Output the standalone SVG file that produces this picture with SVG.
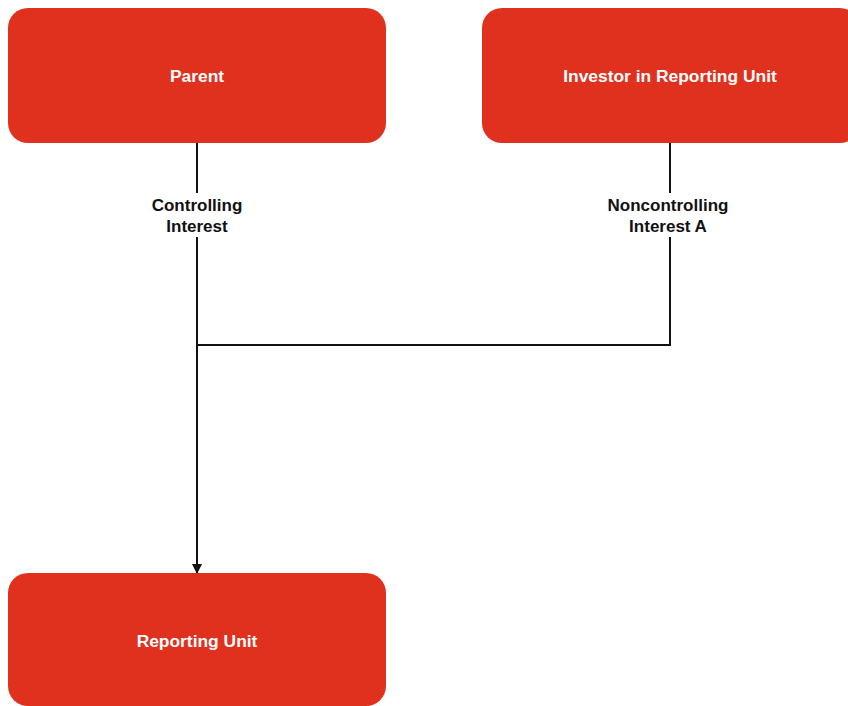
<svg xmlns="http://www.w3.org/2000/svg" width="848" height="706" viewBox="0 0 848 706">
<style>
.box{fill:#E0311F}
.t{font-family:"Liberation Sans",Arial,sans-serif;font-weight:bold;font-size:17.4px;text-anchor:middle;fill:#FFFFFF}
.lbl{font-family:"Liberation Sans",Arial,sans-serif;font-weight:bold;font-size:17px;text-anchor:middle;fill:#111111}
.c{fill:none;stroke:#111111;stroke-width:2}
</style>
<defs>
<marker id="arr" markerWidth="10" markerHeight="10" refX="9" refY="5" orient="auto" markerUnits="userSpaceOnUse">
<path d="M0,0 L10,5 L0,10 Z" fill="#111111"/>
</marker>
</defs>
<rect width="848" height="706" fill="#FFFFFF"/>
<g id="connectors">
<path class="c" d="M197,143 V573" marker-end="url(#arr)"/>
<path class="c" d="M670,143 V345 H197"/>
<rect x="140" y="193" width="114" height="44" fill="#FFFFFF"/>
<rect x="600" y="193" width="136" height="44" fill="#FFFFFF"/>
<text class="lbl" x="197" y="211">Controlling</text>
<text class="lbl" x="197" y="232">Interest</text>
<text class="lbl" x="668" y="211">Noncontrolling</text>
<text class="lbl" x="668" y="232">Interest A</text>
</g>
<g id="parent">
<rect class="box" x="8" y="8" width="378" height="135" rx="20" ry="20"/>
<text class="t" x="197" y="82">Parent</text>
</g>
<g id="investor">
<rect class="box" x="482" y="8" width="378" height="135" rx="20" ry="20"/>
<text class="t" x="670" y="82">Investor in Reporting Unit</text>
</g>
<g id="reporting">
<rect class="box" x="8" y="573" width="378" height="133" rx="20" ry="20"/>
<text class="t" x="197" y="647">Reporting Unit</text>
</g>
</svg>
